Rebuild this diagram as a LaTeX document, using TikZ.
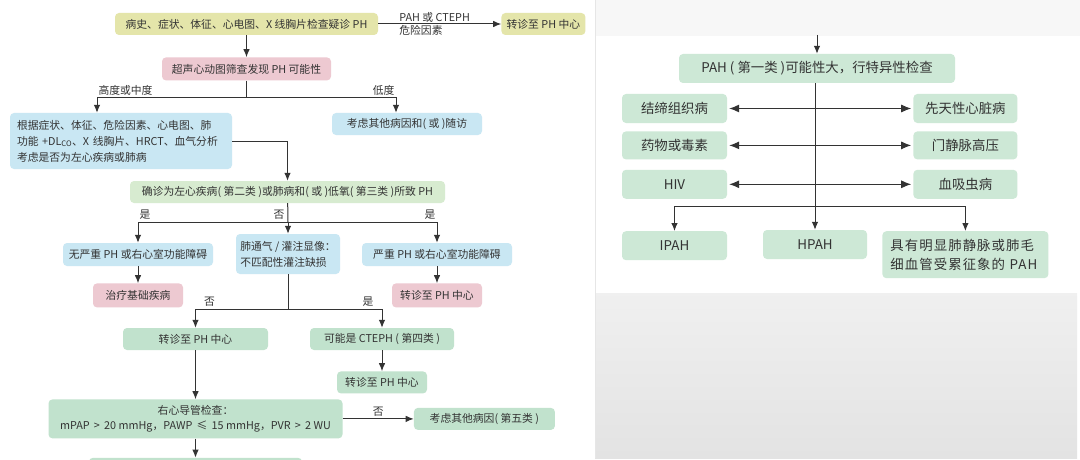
\documentclass[tikz,border=0pt]{standalone}
\usepackage{fontspec}
\setmainfont{Noto Sans CJK SC}
\usetikzlibrary{arrows.meta, positioning}
\definecolor{ink}{HTML}{333333}
\definecolor{initbg}{HTML}{E4E5AA}
\definecolor{screenbg}{HTML}{EDC9D1}
\definecolor{assessbg}{HTML}{C9E7F3}
\definecolor{confirmbg}{HTML}{D7EBD0}
\definecolor{referbg}{HTML}{C1E2CD}
\definecolor{specialbg}{HTML}{CDE8D6}
\definecolor{paneltop}{HTML}{F7F7F7}
\definecolor{panelline}{HTML}{E6E6E6}
\tikzset{
  box/.style={
    rounded corners=4pt,
    inner sep=0pt,
    align=center,
    text=ink,
    font=\fontsize{10.8}{16}\selectfont
  },
  init/.style={box, fill=initbg},
  screen/.style={box, fill=screenbg},
  assess/.style={box, fill=assessbg},
  confirm/.style={box, fill=confirmbg},
  refer/.style={box, fill=referbg},
  special/.style={box, fill=specialbg, font=\fontsize{13.4}{19}\selectfont},
  lbl/.style={inner sep=1pt, text=ink, font=\fontsize{10.8}{13}\selectfont},
  link/.style={line width=1pt, draw=ink},
  arrow/.style={link, -{Latex[length=8pt, width=6.5pt]}},
  twoway/.style={link, {Latex[length=10pt, width=8pt]}-{Latex[length=10pt, width=8pt]},
    shorten <=2pt, shorten >=2pt}
}

\begin{document}
\begin{tikzpicture}[x=1pt, y=-1pt]

\useasboundingbox (0,0) rectangle (1080,460);
\fill[white] (0,0) rectangle (1080,460);
\fill[paneltop] (595,0) rectangle (1080,36);
\shade[top color=black!6, bottom color=black!11] (595,293) rectangle (1077,458);
\draw[panelline, line width=0.8pt] (595,0) -- (595,458);

% left panel: screening pathway
\node[init, minimum width=263pt, minimum height=22pt] (hist) at (246.5,24)
  {病史、症状、体征、心电图、X 线胸片检查疑诊 PH};
\node[init, right=123pt of hist, minimum width=84pt, minimum height=22pt] (referA)
  {转诊至 PH 中心};
\node[screen, below=22pt of hist, minimum width=169pt, minimum height=23pt] (echo)
  {超声心动图筛查发现 PH 可能性};

\node[assess, text width=208pt, inner xsep=7pt, minimum height=56pt, align=left] (lhrisk) at (121,141) {
  根据症状、体征、危险因素、心电图、肺\\
  功能 +DL\textsubscript{CO}、X 线胸片、HRCT、血气分析\\
  考虑是否为左心疾病或肺病
};
\node[assess, minimum width=150pt, minimum height=22pt] (followup) at (407,124)
  {考虑其他病因和( 或 )随访};

\node[confirm, minimum width=315pt, minimum height=22pt] (confirm) at (287.5,192)
  {确诊为左心疾病( 第二类 )或肺病和( 或 )低氧( 第三类 )所致 PH};

\node[assess, minimum width=150pt, minimum height=23pt] (nomild) at (138,254.5)
  {无严重 PH 或右心室功能障碍};
\node[assess, minimum width=104pt, minimum height=40pt, align=left] (vq) at (288,254) {
  肺通气 / 灌注显像：\\
  不匹配性灌注缺损
};
\node[assess, minimum width=150pt, minimum height=23pt] (severe) at (437,254.5)
  {严重 PH 或右心室功能障碍};
\node[screen, below=17pt of nomild, minimum width=90pt, minimum height=24pt] (treat)
  {治疗基础疾病};
\node[screen, below=17pt of severe, minimum width=90pt, minimum height=24pt] (referB)
  {转诊至 PH 中心};

\node[refer, minimum width=145pt, minimum height=22pt] (referC) at (195.5,339)
  {转诊至 PH 中心};
\node[refer, minimum width=144pt, minimum height=22pt] (cteph) at (382,339)
  {可能是 CTEPH ( 第四类 )};
\node[refer, below=21pt of cteph, minimum width=90pt, minimum height=22pt] (referD)
  {转诊至 PH 中心};

\node[refer, below=49pt of referC, minimum width=294pt, minimum height=39pt, font=\fontsize{10.8}{15}\selectfont] (rhc) {
  右心导管检查：\\
  mPAP \,>\, 20 mmHg，PAWP \,≤\, 15 mmHg，PVR \,>\, 2 WU
};
\node[refer, right=71pt of rhc, minimum width=141pt, minimum height=22pt] (other5)
  {考虑其他病因( 第五类 )};
\node[refer, below=19pt of rhc, minimum width=213pt, minimum height=22pt] (nextstep) {};

\coordinate (split1) at (246.5,98);
\coordinate (split2) at (288,222);
\coordinate (split3) at (288,309);

\draw[arrow] (hist) -- node[lbl, pos=0.16, anchor=south west] (lblpah) {PAH 或 CTEPH}
  node[lbl, pos=0.16, anchor=north west] (lblrisk) {危险因素} (referA);
\draw[arrow] (hist) -- (echo);
\draw[link] (echo) -- (split1);
\draw[arrow] (split1) -| node[lbl, pos=0.5, anchor=south west, yshift=1pt] (lblhigh) {高度或中度}
  ([xshift=-24pt]lhrisk.north);
\draw[arrow] (split1) -| node[lbl, pos=0.5, anchor=south east, yshift=1pt] (lbllow) {低度}
  ([xshift=-11pt]followup.north);
\draw[arrow] (lhrisk.east) -| (confirm.north);
\draw[link] (confirm) -- (split2);
\draw[arrow] (split2) -| node[lbl, pos=0.5, anchor=south west, yshift=1pt] (lblyesA) {是} (nomild.north);
\draw[arrow] (split2) -- node[lbl, pos=0, anchor=south east, xshift=-2pt, yshift=1pt] (lblnoA) {否} (vq);
\draw[arrow] (split2) -| node[lbl, pos=0.5, anchor=south east, yshift=1pt] (lblyesB) {是} (severe.north);
\draw[arrow] (nomild) -- (treat);
\draw[arrow] (severe) -- (referB);
\draw[link] (vq) -- (split3);
\draw[arrow] (split3) -| node[lbl, pos=0.5, anchor=south west, xshift=7pt, yshift=1pt] (lblnoB) {否} (referC.north);
\draw[arrow] (split3) -| node[lbl, pos=0.5, anchor=south east, xshift=-7pt, yshift=1pt] (lblyesC) {是} (cteph.north);
\draw[arrow] (cteph) -- (referD);
\draw[arrow] (referC) -- (rhc);
\draw[arrow] (rhc) -- node[lbl, above, yshift=1pt] (lblnoC) {否} (other5);
\draw[arrow] (rhc) -- (nextstep);

% right panel: PAH subtypes
\coordinate (pahin) at (817,35);
\node[special, minimum width=276pt, minimum height=29pt] (pah) at (817,68.5)
  {PAH ( 第一类 )可能性大，行特异性检查};

\node[special, minimum width=105pt, minimum height=29pt] (ctd) at (674.5,108.5) {结缔组织病};
\node[special, below=8pt of ctd, minimum width=105pt, minimum height=28pt] (drug) {药物或毒素};
\node[special, below=10pt of drug, minimum width=105pt, minimum height=29pt] (hiv) {HIV};
\node[special, right=186pt of ctd, minimum width=104pt, minimum height=29pt] (chd) {先天性心脏病};
\node[special, right=186pt of drug, minimum width=104pt, minimum height=28pt] (portal) {门静脉高压};
\node[special, right=186pt of hiv, minimum width=104pt, minimum height=29pt] (schisto) {血吸虫病};

\node[special, below=32pt of hiv, minimum width=105pt, minimum height=29pt] (ipah) {IPAH};
\node[special, minimum width=104pt, minimum height=29pt] (hpah) at (815,244.5) {HPAH};
\node[special, below=32pt of schisto, text width=150pt, inner xsep=8pt, minimum height=47pt, align=left] (pvod) {
  \addfontfeature{LetterSpace=8}具有明显肺静脉或肺毛\\
  \addfontfeature{LetterSpace=8}细血管受累征象的 PAH
};

\coordinate (fork) at (815,206);

\draw[arrow] (pahin) -- (pah);
\draw[twoway] (ctd) -- (chd);
\draw[twoway] (drug) -- (portal);
\draw[twoway] (hiv) -- (schisto);
\draw[arrow] (pah.south -| hpah.north) -- (hpah);
\draw[arrow] (fork) -| (ipah.north);
\draw[arrow] (fork) -| (pvod.north);

\end{tikzpicture}
\end{document}
